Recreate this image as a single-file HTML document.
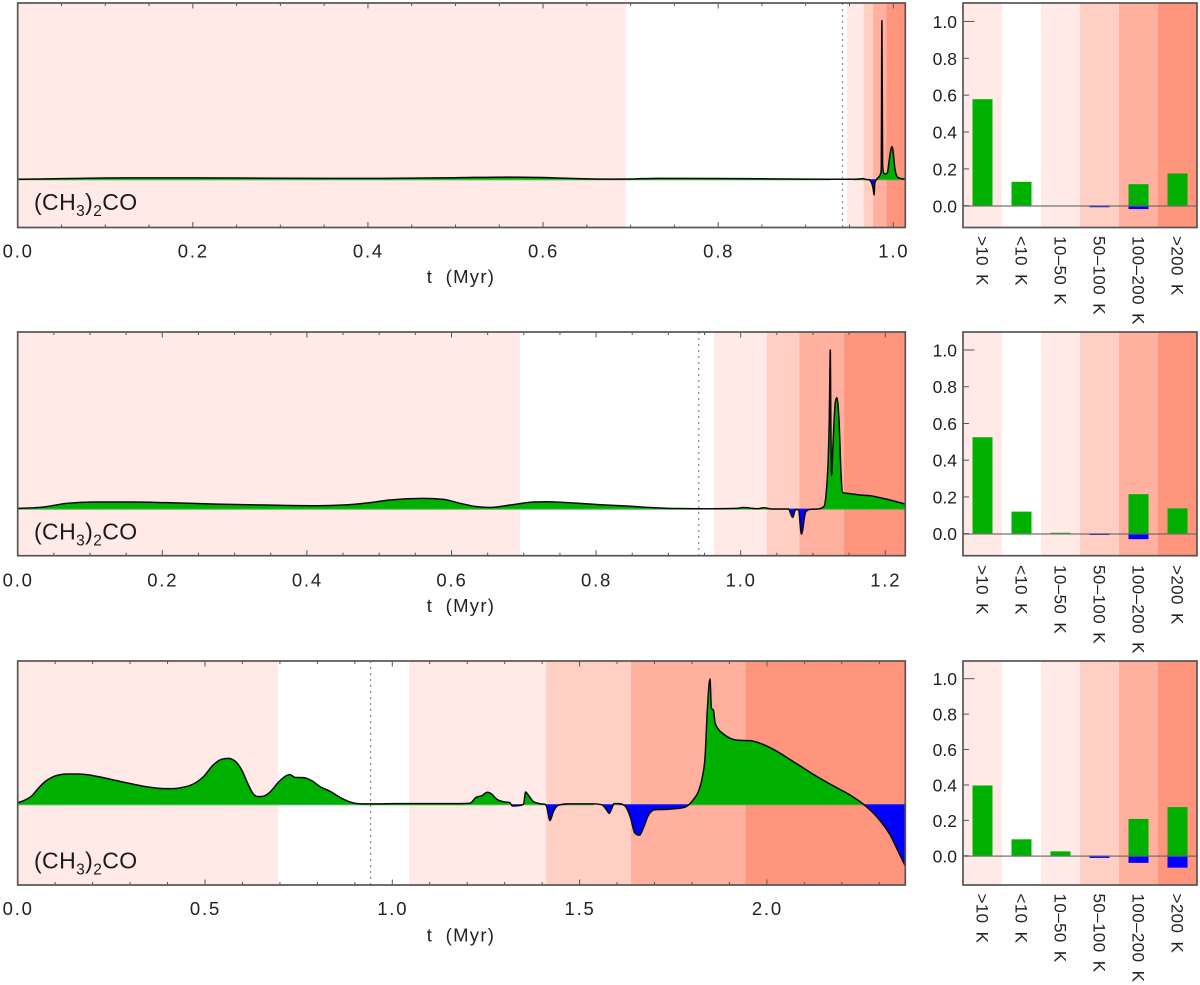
<!DOCTYPE html>
<html lang="en">
<head>
<meta charset="utf-8">
<title>(CH3)2CO time evolution</title>
<style>
html,body{margin:0;padding:0;background:#fff;}
svg{display:block;font-family:"Liberation Sans",Arial,sans-serif;}
</style>
</head>
<body>
<svg id="figure" xmlns="http://www.w3.org/2000/svg" width="1200" height="985" viewBox="0 0 1200 985"></svg>
<script>
// ---------- chart data ----------
const p1Times = [0,.05,.1,.15,.25,.35,.42,.5,.56,.6,.64,.66,.68,.7,.73,.8,.88,.928,.954,.966,.968,.972,.9745,.977,.978,.979,.981,.985,.9862,.987,.9878,.989,.991,.9932,.9954,.9974,.9985,.9996,1.0011,1.0027,1.0057,1.0122,1.0137];
const p1Values = [0,.004,.008,.009,.008,.006,.006,.01,.014,.011,.004,.002,.001,.002,.006,.005,.002,0,0,.004,0,-.002,-.015,-.06,-.098,-.02,0,.027,.06,.996,.09,.04,.033,.041,.121,.19,.205,.184,.102,.04,.01,.002,.002];
const p2Times = [0,.036,.068,.105,.16,.206,.275,.344,.414,.45,.483,.515,.561,.589,.612,.635,.653,.681,.713,.732,.769,.806,.842,.879,.911,.944,.96,.995,1.004,1.013,1.023,1.032,1.043,1.066,1.072,1.076,1.08,1.084,1.09,1.096,1.107,1.115,1.119,1.121,1.1225,1.124,1.1247,1.1258,1.127,1.131,1.133,1.136,1.139,1.141,1.151,1.165,1.179,1.197,1.216,1.2277];
const p2Values = [.002,.011,.034,.042,.042,.038,.029,.023,.019,.023,.036,.055,.065,.059,.034,.013,.008,.023,.042,.044,.036,.025,.017,.006,.001,0,0,.002,.008,.004,0,.006,-.002,-.002,-.055,-.004,-.008,-.16,-.019,-.004,-.002,.013,.14,.3,.55,1,.55,.21,.33,.674,.7,.559,.202,.101,.095,.086,.082,.065,.044,.029];
const p3Times = [0,.02,.037,.055,.073,.091,.109,.131,.157,.184,.22,.264,.309,.353,.389,.415,.442,.469,.496,.522,.544,.562,.58,.598,.616,.629,.642,.656,.673,.696,.714,.727,.74,.762,.785,.807,.834,.86,.887,.909,.932,.958,1.003,1.181,1.207,1.224,1.239,1.254,1.265,1.279,1.296,1.314,1.32,1.337,1.35,1.356,1.363,1.376,1.394,1.408,1.412,1.421,1.43,1.443,1.466,1.537,1.559,1.571,1.579,1.586,1.592,1.606,1.621,1.635,1.648,1.66,1.67,1.684,1.701,1.732,1.777,1.79,1.803,1.817,1.828,1.835,1.841,1.848,1.852,1.857,1.862,1.87,1.884,1.902,1.924,1.955,1.982,2.017,2.071,2.124,2.178,2.222,2.258,2.293,2.329,2.355,2.3695];
const p3Values = [.013,.035,.066,.128,.181,.215,.234,.242,.242,.237,.218,.189,.16,.136,.125,.125,.136,.162,.221,.314,.359,.367,.346,.274,.154,.082,.061,.064,.096,.176,.223,.237,.215,.213,.189,.141,.104,.056,.019,.005,.003,.003,.005,.005,.008,.056,.069,.096,.082,.04,.021,.013,-.013,-.011,0,.098,.074,.024,.005,0,-.019,-.13,-.059,-.008,.003,.003,-.003,-.04,-.072,-.032,.005,.005,-.013,-.098,-.231,-.247,-.191,-.085,-.043,-.04,-.027,-.008,.035,.101,.221,.38,.753,1,.766,.753,.646,.601,.561,.527,.511,.508,.487,.439,.34,.239,.146,.074,0,-.098,-.245,-.404,-.492];

const p1BandEdges = [0,.695,.947,.966,.977,.992,1.0137];
const p2BandEdges = [0,.695,.963,1.036,1.081,1.143,1.2277];
const p3BandEdges = [0,.695,1.045,1.411,1.637,1.943,2.3695];
const bandColors = ["#ffeae7","#ffffff","#ffeae7","#ffcfc4","#ffb09f","#ff957d"];
const bandNames = ["above-10k","below-10k","10-50k","50-100k","100-200k","above-200k"];

const markerTime = 0.942;

const p1XTicks = [0,.2,.4,.6,.8,1.0];
const p2XTicks = [0,.2,.4,.6,.8,1.0,1.2];
const p3XTicks = [0,.5,1.0,1.5,2.0];
const xTickLabelsP1 = ["0.0","0.2","0.4","0.6","0.8","1.0"];
const xTickLabelsP2 = ["0.0","0.2","0.4","0.6","0.8","1.0","1.2"];
const xTickLabelsP3 = ["0.0","0.5","1.0","1.5","2.0"];
const p1MinorTicks = [.05,.1,.15,.25,.3,.35,.45,.5,.55,.65,.7,.75,.85,.9,.95];
const p2MinorTicks = [.05,.1,.15,.25,.3,.35,.45,.5,.55,.65,.7,.75,.85,.9,.95,1.05,1.1,1.15];
const p3MinorTicks = [.1,.2,.3,.4,.6,.7,.8,.9,1.1,1.2,1.3,1.4,1.6,1.7,1.8,1.9,2.1,2.2,2.3];

const barCategories = [">10 K","<10 K","10\u201350 K","50\u2013100 K","100\u2013200 K",">200 K"];
const p1BarsPositive = [.578,.13,0,0,.117,.175];
const p1BarsNegative = [0,0,0,-.008,-.018,0];
const p2BarsPositive = [.525,.12,.005,0,.215,.138];
const p2BarsNegative = [0,0,0,-.007,-.03,0];
const p3BarsPositive = [.397,.093,.025,0,.208,.275];
const p3BarsNegative = [0,0,0,-.012,-.04,-.067];
const barYTicks = [0,.2,.4,.6,.8,1.0];
const barYTickLabels = ["0.0","0.2","0.4","0.6","0.8","1.0"];

// ---------- layout ----------
const panels = [
  {id:"top",top:3,bot:227.5,xMax:1.0137,yMin:-.3026,yMax:1.1067,barYMin:-.118,barYMax:1.1,
   times:p1Times,values:p1Values,edges:p1BandEdges,ticks:p1XTicks,labels:xTickLabelsP1,minor:p1MinorTicks,pos:p1BarsPositive,neg:p1BarsNegative,
   tickBase:257.5,titleBase:283,nameBase:210,catTop:236},
  {id:"middle",top:332,bot:555.7,xMax:1.2277,yMin:-.296,yMax:1.113,barYMin:-.12,barYMax:1.098,
   times:p2Times,values:p2Values,edges:p2BandEdges,ticks:p2XTicks,labels:xTickLabelsP2,minor:p2MinorTicks,pos:p2BarsPositive,neg:p2BarsNegative,
   tickBase:586.7,titleBase:612,nameBase:539.3,catTop:565},
  {id:"bottom",top:661,bot:885,xMax:2.3695,yMin:-.644,yMax:1.1437,barYMin:-.165,barYMax:1.1,
   times:p3Times,values:p3Values,edges:p3BandEdges,ticks:p3XTicks,labels:xTickLabelsP3,minor:p3MinorTicks,pos:p3BarsPositive,neg:p3BarsNegative,
   tickBase:915,titleBase:941.5,nameBase:868.3,catTop:893.5}
];
const MAIN_L = 17.7, MAIN_R = 905.3, BAR_L = 963, BAR_R = 1197;
const FRAME = "#555555", INK = "#222222";

const svg = document.getElementById("figure");
let clipCount = 0;
const defs = document.createElementNS("http://www.w3.org/2000/svg", "defs");
svg.appendChild(defs);

function make(tag, attrs, parent, text){
  const el = document.createElementNS("http://www.w3.org/2000/svg", tag);
  for (const k in attrs) el.setAttribute(k, attrs[k]);
  if (text !== undefined) el.textContent = text;
  (parent || svg).appendChild(el);
  return el;
}
function clipRect(x, y, w, h){
  const id = "clip" + (++clipCount);
  const c = make("clipPath", {id:id}, defs);
  make("rect", {x:x, y:y, width:w, height:h}, c);
  return "url(#" + id + ")";
}
// monotone cubic path through the pixel points (no overshoot at the spikes)
function curveCommands(px, py){
  const n = px.length, m = new Array(n);
  const sgn = v => v < 0 ? -1 : 1;
  for (let i = 1; i < n - 1; i++){
    const h0 = px[i]-px[i-1], h1 = px[i+1]-px[i];
    const s0 = (py[i]-py[i-1])/h0, s1 = (py[i+1]-py[i])/h1;
    const q = (s0*h1+s1*h0)/(h0+h1);
    m[i] = (sgn(s0)+sgn(s1))*Math.min(Math.abs(s0),Math.abs(s1),.5*Math.abs(q)) || 0;
  }
  m[0] = (3*(py[1]-py[0])/(px[1]-px[0]) - m[1])/2;
  m[n-1] = (3*(py[n-1]-py[n-2])/(px[n-1]-px[n-2]) - m[n-2])/2;
  let d = "";
  for (let i = 0; i < n - 1; i++){
    const dx = (px[i+1]-px[i])/3;
    d += "C" + (px[i]+dx).toFixed(2) + " " + (py[i]+dx*m[i]).toFixed(2) + " "
       + (px[i+1]-dx).toFixed(2) + " " + (py[i+1]-dx*m[i+1]).toFixed(2) + " "
       + px[i+1].toFixed(2) + " " + py[i+1].toFixed(2);
  }
  return d;
}

panels.forEach(function(p){
  const x = t => MAIN_L + (t / p.xMax) * (MAIN_R - MAIN_L);
  const y = v => p.bot - ((v - p.yMin) / (p.yMax - p.yMin)) * (p.bot - p.top);
  const by = v => p.bot - ((v - p.barYMin) / (p.barYMax - p.barYMin)) * (p.bot - p.top);
  const bandW = (BAR_R - BAR_L) / barCategories.length;
  const bx = i => BAR_L + bandW * i;

  const g = make("g", {});
  
  

  // temperature bands (time panel)
  bandColors.forEach(function(c, i){
    const r = make("rect", {x:x(p.edges[i]), y:p.top, width:x(p.edges[i+1])-x(p.edges[i]), height:p.bot-p.top, fill:c}, g);
    
    
  });

  // filled areas, split at the zero level by clipping
  const px = p.times.map(x), py = p.values.map(y), y0 = y(0);
  const curve = curveCommands(px, py);
  const area = "M" + px[0].toFixed(2) + " " + y0.toFixed(2) + "L" + px[0].toFixed(2) + " " + py[0].toFixed(2)
             + curve + "L" + px[px.length-1].toFixed(2) + " " + y0.toFixed(2) + "Z";
  const fillPos = make("path", {d:area, fill:"#00b000", "clip-path":clipRect(MAIN_L, p.top, MAIN_R-MAIN_L, y0-p.top)}, g);
  
  
  const fillNeg = make("path", {d:area, fill:"#0000ff", "clip-path":clipRect(MAIN_L, y0, MAIN_R-MAIN_L, p.bot-y0)}, g);
  
  

  // thin coloured strip along zero under the positive / negative stretches
  let stripPos = "", stripNeg = "";
  for (let i = 0; i < p.times.length - 1; i++){
    const s = p.values[i] + p.values[i+1];
    const seg = "M" + px[i].toFixed(2) + " " + (y0+.4).toFixed(2) + "L" + px[i+1].toFixed(2) + " " + (y0+.4).toFixed(2);
    if (s > 0) stripPos += seg; else if (s < 0) stripNeg += seg;
  }
  const sp1 = make("path", {d:stripPos || "M0 0", fill:"none", stroke:"#1fbb1f", "stroke-width":1}, g);
  
  
  const sp2 = make("path", {d:stripNeg || "M0 0", fill:"none", stroke:"#2020ff", "stroke-width":1}, g);
  
  

  // rate line
  const line = make("path", {d:"M" + px[0].toFixed(2) + " " + py[0].toFixed(2) + curve, fill:"none", stroke:"#0a0a0a", "stroke-width":1.5, "stroke-linejoin":"round"}, g);
  
  

  // dotted marker
  const dot = make("line", {x1:x(markerTime), x2:x(markerTime), y1:p.top, y2:p.bot, stroke:"#888", "stroke-width":1.2, "stroke-dasharray":"2 4"}, g);
  
  

  // x ticks
  p.ticks.forEach(function(t, i){
    const a = make("line", {x1:x(t), x2:x(t), y1:p.bot, y2:p.bot-5.5, stroke:FRAME, "stroke-width":1}, g);
    
    
    const b = make("line", {x1:x(t), x2:x(t), y1:p.top, y2:p.top+5.5, stroke:FRAME, "stroke-width":1}, g);
    
    
    const l = make("text", {x:Math.max(x(t)+.5,17.5), y:p.tickBase, "text-anchor":"middle", "font-size":18.5, "letter-spacing":1.8, fill:INK}, g, p.labels[i]);
    
    
  });
  p.minor.forEach(function(t){
    const a = make("line", {x1:x(t), x2:x(t), y1:p.bot, y2:p.bot-3, stroke:FRAME, "stroke-width":1}, g);
    
    
    const b = make("line", {x1:x(t), x2:x(t), y1:p.top, y2:p.top+3, stroke:FRAME, "stroke-width":1}, g);
    
    
  });

  // frame
  const frame = make("rect", {x:MAIN_L, y:p.top, width:MAIN_R-MAIN_L, height:p.bot-p.top, fill:"none", stroke:FRAME, "stroke-width":1.7}, g);
  
  

  // x title
  const title = make("text", {x:461, y:p.titleBase, "text-anchor":"middle", "font-size":18.5, "letter-spacing":1.3, "word-spacing":6, fill:INK}, g, "t (Myr)");
  
  

  // species label
  const sp = make("text", {x:34, y:p.nameBase, "font-size":23, "letter-spacing":.4, fill:"#1a1a1a"}, g);
  
  
  make("tspan", {}, sp, "(CH");
  make("tspan", {"font-size":15.5, dy:6}, sp, "3");
  make("tspan", {dy:-6}, sp, ")");
  make("tspan", {"font-size":15.5, dy:6}, sp, "2");
  make("tspan", {dy:-6}, sp, "CO");

  // ---------- bar panel ----------
  const h = make("g", {});
  
  

  bandColors.forEach(function(c, i){
    const r = make("rect", {x:bx(i), y:p.top, width:bandW, height:p.bot-p.top, fill:c}, h);
    
    
  });
  barCategories.forEach(function(cat, i){
    const cx = bx(i) + bandW/2;
    if (p.pos[i] !== 0){
      const b = make("rect", {x:cx-10, y:by(p.pos[i]), width:20, height:by(0)-by(p.pos[i]), fill:"#00b000"}, h);
      
      
    }
    if (p.neg[i] !== 0){
      const b = make("rect", {x:cx-10, y:by(0), width:20, height:by(p.neg[i])-by(0), fill:"#0000ff"}, h);
      
      
    }
    const bl = cx - 5.8;
    const lab = make("text", {transform:"translate("+bl+" "+p.catTop+") rotate(90)", "font-size":17, "letter-spacing":.4, "word-spacing":3, fill:INK}, h, cat);
    
    
  });
  const zero = make("line", {x1:BAR_L, x2:BAR_R, y1:by(0)+.3, y2:by(0)+.3, stroke:"#666", "stroke-opacity":.75, "stroke-width":1.5}, h);
  
  

  barYTicks.forEach(function(v, i){
    const len = v === 1 ? 11.5 : 6;
    const t = make("line", {x1:BAR_L, x2:BAR_L+len, y1:by(v), y2:by(v), stroke:FRAME, "stroke-width":1}, h);
    
    
    const l = make("text", {x:957, y:by(v)+6.5, "text-anchor":"end", "font-size":17.5, fill:INK}, h, barYTickLabels[i]);
    
    
  });
  const bf = make("rect", {x:BAR_L, y:p.top, width:BAR_R-BAR_L, height:p.bot-p.top, fill:"none", stroke:FRAME, "stroke-width":1.7}, h);
  
  
});
</script>
</body>
</html>
